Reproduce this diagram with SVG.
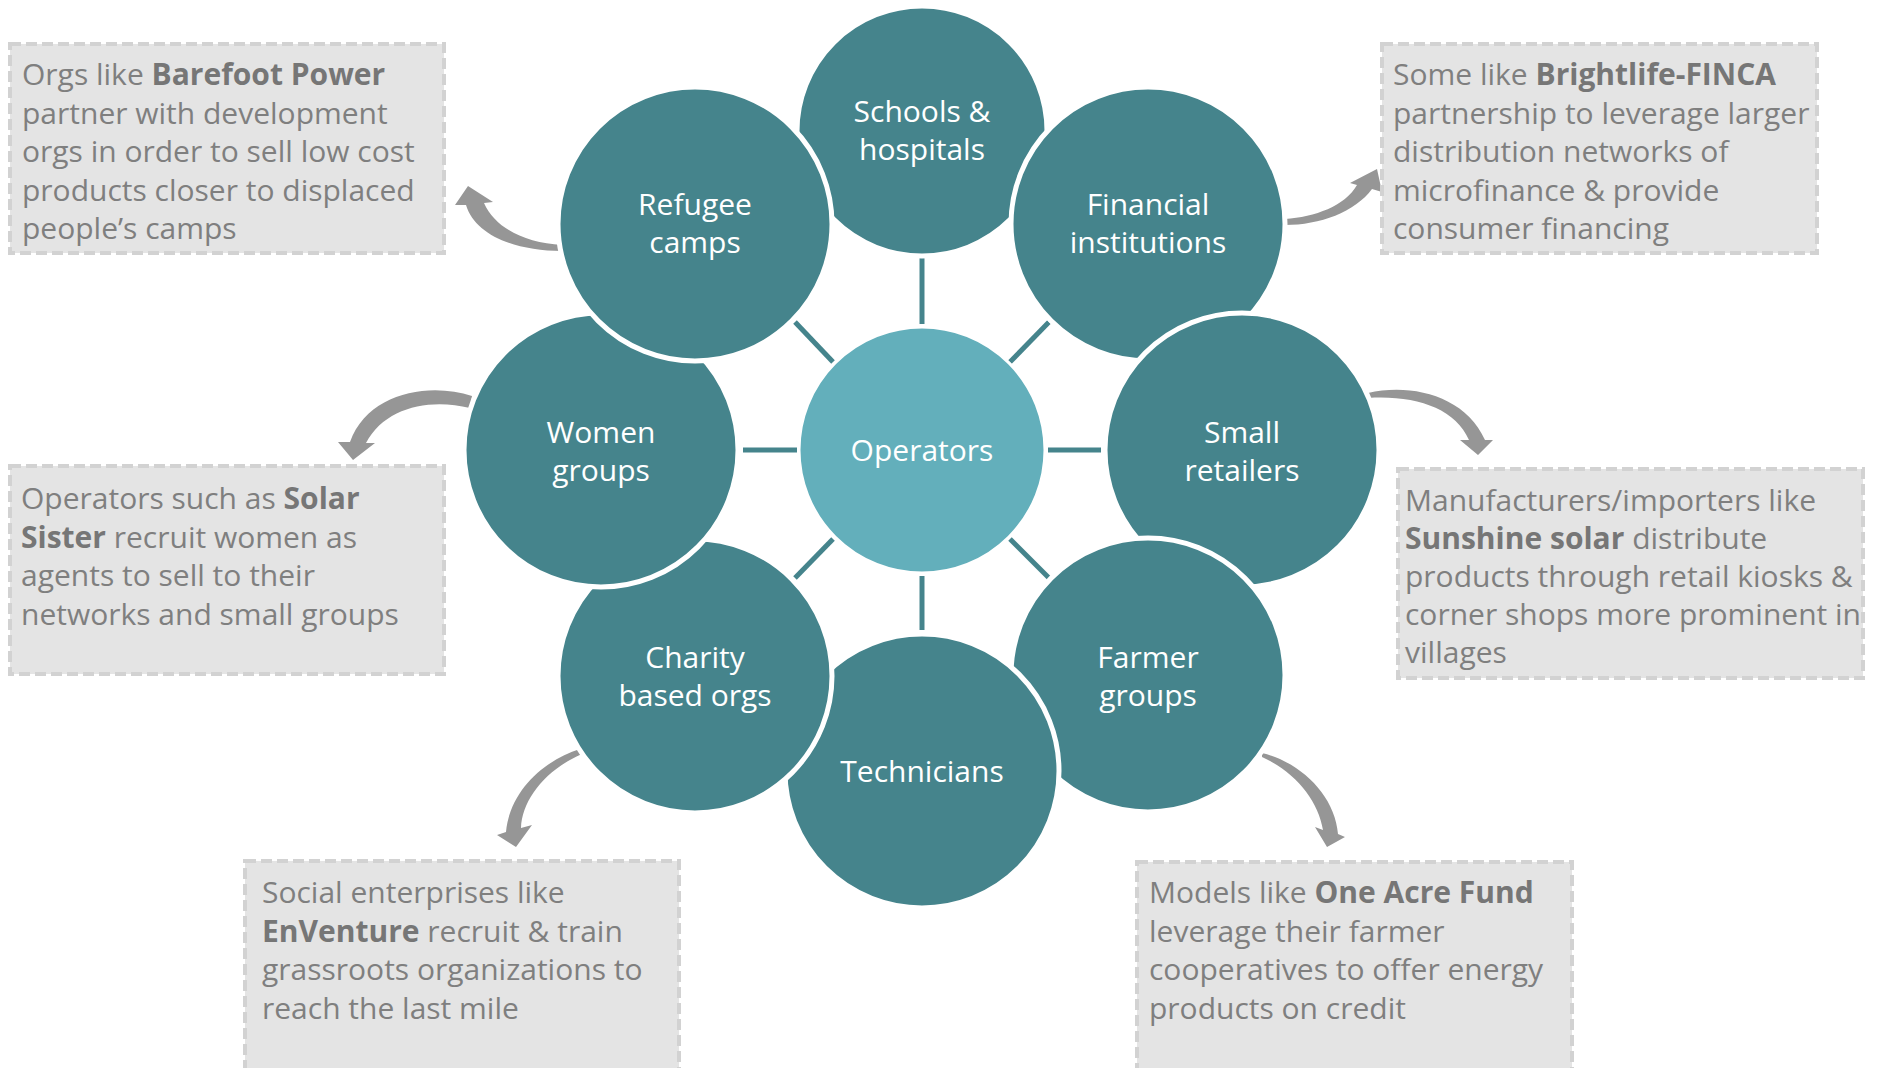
<svg xmlns="http://www.w3.org/2000/svg" width="1877" height="1068" viewBox="0 0 1877 1068">
<style>
.bg{fill:#ffffff}
.spoke{stroke:#45848C;stroke-width:5;fill:none}
.arrow{fill:#969696}
.node{fill:#45848C;stroke:#ffffff;stroke-width:5}
.hub{fill:#63AFBB;stroke:#ffffff;stroke-width:3}
.lbl{font-family:"Open Sans","Noto Sans","Liberation Sans",sans-serif;font-size:30px;fill:#ffffff;text-anchor:middle}
.box{fill:#E4E4E4;stroke:#D2D2D2;stroke-width:4;stroke-dasharray:11 5}
.note{font-family:"Open Sans","Noto Sans","Liberation Sans",sans-serif;font-size:30px;fill:#7F7F7F}
.b{font-weight:bold;fill:#767676}
</style>
<rect class="bg" x="0" y="0" width="1877" height="1068"/>
<g id="connectors">
<line class="spoke" x1="922" y1="258" x2="922" y2="324"/>
<line class="spoke" x1="795" y1="322" x2="833" y2="362"/>
<line class="spoke" x1="1049" y1="322" x2="1010" y2="362"/>
<line class="spoke" x1="743" y1="450" x2="797" y2="450"/>
<line class="spoke" x1="1048" y1="450" x2="1101" y2="450"/>
<line class="spoke" x1="833" y1="539" x2="795" y2="578"/>
<line class="spoke" x1="1010" y1="539" x2="1049" y2="578"/>
<line class="spoke" x1="922" y1="576" x2="922" y2="630"/>
<path class="arrow" d="M562,245 C525,243 495,228 484,203 L493,202 L468,186 L455,205 L466,205 C475,235 515,251 562,251 Z"/>
<path class="arrow" d="M1285,219 C1315,217 1345,206 1357,185 L1350,183 L1377,169 L1382,192 L1372,189 C1355,212 1320,225 1285,225 Z"/>
<path class="arrow" d="M472,396 C430,382 368,392 350,442 L338,442 L353,460 L375,443 L366,443 C385,407 430,398 470,408 Z"/>
<path class="arrow" d="M1368,393 C1410,383 1465,395 1485,440 L1493,440 L1478,455 L1460,440 L1469,440 C1455,408 1415,395 1368,398 Z"/>
<path class="arrow" d="M580,749 C545,760 510,790 506,832 L497,835 L516,847 L532,825 L521,828 C522,800 545,770 582,754 Z"/>
<path class="arrow" d="M1262,753 C1300,762 1335,795 1338,834 L1345,837 L1327,847 L1315,827 L1323,830 C1318,800 1295,772 1262,757 Z"/>
</g>
<g id="schools"><circle class="node" cx="922" cy="131" r="125"/><text class="lbl" x="922" y="122">Schools &amp;</text><text class="lbl" x="922" y="160">hospitals</text></g>
<g id="financial"><circle class="node" cx="1148" cy="224" r="137"/><text class="lbl" x="1148" y="215">Financial</text><text class="lbl" x="1148" y="253">institutions</text></g>
<g id="retailers"><circle class="node" cx="1242" cy="450" r="137"/><text class="lbl" x="1242" y="443">Small</text><text class="lbl" x="1242" y="481">retailers</text></g>
<g id="farmer"><circle class="node" cx="1148" cy="675" r="137"/><text class="lbl" x="1148" y="668">Farmer</text><text class="lbl" x="1148" y="706">groups</text></g>
<g id="technicians"><circle class="node" cx="922" cy="771" r="137"/><text class="lbl" x="922" y="782">Technicians</text></g>
<g id="charity"><circle class="node" cx="695" cy="676" r="137"/><text class="lbl" x="695" y="668">Charity</text><text class="lbl" x="695" y="706">based orgs</text></g>
<g id="women"><circle class="node" cx="601" cy="450" r="137"/><text class="lbl" x="601" y="443">Women</text><text class="lbl" x="601" y="481">groups</text></g>
<g id="refugee"><circle class="node" cx="695" cy="224" r="137"/><text class="lbl" x="695" y="215">Refugee</text><text class="lbl" x="695" y="253">camps</text></g>
<g id="operators"><circle class="hub" cx="922" cy="450" r="123"/><text class="lbl" x="922" y="461">Operators</text></g>
<g id="note-refugee"><rect class="box" x="10" y="44" width="434" height="209"/>
<text class="note"><tspan x="22" y="85">Orgs like <tspan class="b">Barefoot Power</tspan></tspan><tspan x="22" y="123.5">partner with development</tspan><tspan x="22" y="162">orgs in order to sell low cost</tspan><tspan x="22" y="200.5">products closer to displaced</tspan><tspan x="22" y="239">people’s camps</tspan></text></g>
<g id="note-financial"><rect class="box" x="1382" y="44" width="435" height="209"/>
<text class="note"><tspan x="1393" y="85">Some like <tspan class="b">Brightlife-FINCA</tspan></tspan><tspan x="1393" y="123.5">partnership to leverage larger</tspan><tspan x="1393" y="162">distribution networks of</tspan><tspan x="1393" y="200.5">microfinance &amp; provide</tspan><tspan x="1393" y="239">consumer financing</tspan></text></g>
<g id="note-women"><rect class="box" x="10" y="466" width="434" height="208"/>
<text class="note"><tspan x="21" y="509">Operators such as <tspan class="b">Solar</tspan></tspan><tspan x="21" y="547.5"><tspan class="b">Sister</tspan> recruit women as</tspan><tspan x="21" y="586">agents to sell to their</tspan><tspan x="21" y="624.5">networks and small groups</tspan></text></g>
<g id="note-retailers"><rect class="box" x="1398" y="469" width="465" height="209"/>
<text class="note"><tspan x="1405" y="511">Manufacturers/importers like</tspan><tspan x="1405" y="549"><tspan class="b">Sunshine solar</tspan> distribute</tspan><tspan x="1405" y="587">products through retail kiosks &amp;</tspan><tspan x="1405" y="625">corner shops more prominent in</tspan><tspan x="1405" y="663">villages</tspan></text></g>
<g id="note-charity"><rect class="box" x="245" y="861" width="434" height="215"/>
<text class="note"><tspan x="262" y="903">Social enterprises like</tspan><tspan x="262" y="941.5"><tspan class="b">EnVenture</tspan> recruit &amp; train</tspan><tspan x="262" y="980">grassroots organizations to</tspan><tspan x="262" y="1018.5">reach the last mile</tspan></text></g>
<g id="note-farmer"><rect class="box" x="1137" y="862" width="435" height="215"/>
<text class="note"><tspan x="1149" y="903">Models like <tspan class="b">One Acre Fund</tspan></tspan><tspan x="1149" y="941.5">leverage their farmer</tspan><tspan x="1149" y="980">cooperatives to offer energy</tspan><tspan x="1149" y="1018.5">products on credit</tspan></text></g>
</svg>
